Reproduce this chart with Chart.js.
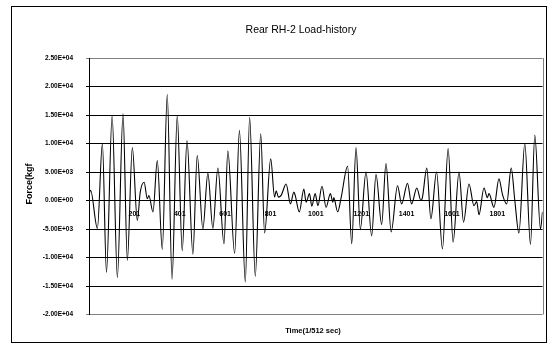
<!DOCTYPE html>
<html>
<head>
<meta charset="utf-8">
<script src="https://cdn.jsdelivr.net/npm/chart.js@4.4.1/dist/chart.umd.min.js"></script>
<style>
  html, body { margin: 0; padding: 0; background: #fff; }
</style>
</head>
<body>
<canvas id="loadChart" width="552" height="349"></canvas>
<script>
// Turning points of the load history (sample no. / force in kgf)
const sampleIdx = [1, 8, 38, 60, 78, 103, 126, 151, 170, 192,
  214, 227, 244, 258, 265, 283, 302, 324, 346, 367,
  390, 412, 433, 459, 478, 503, 525, 547, 569, 596,
  613, 643, 664, 690, 709, 734, 758, 775, 802, 819,
  826, 836, 848, 870, 889, 904, 910, 928, 948, 958,
  973, 983, 998, 1010, 1028, 1046, 1065, 1076, 1080, 1097,
  1112, 1141, 1159, 1178, 1197, 1222, 1247, 1266, 1291, 1310,
  1333, 1361, 1379, 1405, 1423, 1446, 1464, 1471, 1490, 1508,
  1533, 1559, 1584, 1606, 1632, 1652, 1676, 1698, 1710, 1720,
  1742, 1757, 1764, 1786, 1808, 1824, 1842, 1862, 1878, 1896,
  1922, 1947, 1966, 1991, 2000];

const forceKgf = [1000, 1800, -4900, 10000, -12600, 14900, -13500, 15200, -10500, 9300,
  -3500, 1500, 3200, 300, 870, -2000, 7000, -8600, 18600, -13800,
  14900, -8800, 10500, -9400, 7900, -5000, 4800, -4900, 5700, -7600,
  8700, -9300, 12300, -14300, 14600, -13300, 11700, -5700, 7300, 600,
  1700, 600, 900, 2900, -600, 1500, 900, -2000, 2000, -300,
  1200, -1000, 1200, -900, 2500, -1200, 1200, -300, 500, -2000,
  400, 6000, -7600, 9300, -5000, 5000, -6200, 4600, -4200, 6500,
  -5500, 2600, -600, 3000, -600, 2200, 0, 600, 5700, -3200,
  5000, -8500, 9100, -7300, 5000, -3800, 2900, -900, -200, -2500,
  2200, 500, 1200, -1200, 3800, 1000, -600, 5700, 0, -5700,
  10000, -7700, 11500, -5000, -2000];

// Tick labels
const xTickVals = [201, 401, 601, 801, 1001, 1201, 1401, 1601, 1801];
const yTickVals = [-20000, -15000, -10000, -5000, 0, 5000, 10000, 15000, 20000, 25000];
const yTickLabels = ['-2.00E+04', '-1.50E+04', '-1.00E+04', '-5.00E+03', '0.00E+00',
  '5.00E+03', '1.00E+04', '1.50E+04', '2.00E+04', '2.50E+04'];

const chartTitle = 'Rear RH-2 Load-history';
const xTitle = 'Time(1/512 sec)';
const yTitle = 'Force(kgf';

const fontName = '"Liberation Sans", Arial, sans-serif';

// Frame, titles and the grey plot border, Excel style
const moldura = {
  id: 'moldura',
  beforeDraw(chart) {
    const c = chart.ctx;
    c.save();
    c.fillStyle = '#fff';
    c.fillRect(0, 0, chart.width, chart.height);
    c.restore();
  },
  beforeDatasetsDraw(chart) {
    const a = chart.chartArea;
    const c = chart.ctx;
    c.save();
    c.strokeStyle = '#808080';
    c.lineWidth = 1;
    c.beginPath();
    c.moveTo(Math.round(a.right) + 0.5, a.top);
    c.lineTo(Math.round(a.right) + 0.5, a.bottom);
    c.stroke();
    c.restore();
  },
  afterDraw(chart) {
    const c = chart.ctx;
    c.save();
    c.strokeStyle = '#000';
    c.lineWidth = 1;
    c.strokeRect(11.5, 6.5, 535, 336);

    c.fillStyle = '#000';
    c.textAlign = 'center';
    c.textBaseline = 'middle';
    c.font = '10.5px ' + fontName;
    c.fillText(chartTitle, 301, 30);

    c.font = 'bold 7.5px ' + fontName;
    c.fillText(xTitle, 313, 331);

    c.translate(30, 184);
    c.rotate(-Math.PI / 2);
    c.font = 'bold 9px ' + fontName;
    c.fillText(yTitle, 0, 0);
    c.restore();
  }
};

const ctx = document.getElementById('loadChart').getContext('2d');

const loadChart = new Chart(ctx, {
  type: 'line',
  data: {
    datasets: [{
      label: 'Force',
      data: sampleIdx.map((s, i) => ({ x: s, y: forceKgf[i] })),
      borderColor: '#000',
      borderWidth: 1.1,
      pointRadius: 0,
      cubicInterpolationMode: 'monotone'
    }]
  },
  options: {
    responsive: false,
    animation: false,
    devicePixelRatio: 1,
    layout: { padding: { left: 20, top: 58, right: 9.5, bottom: 34.5 } },
    plugins: {
      legend: { display: false },
      tooltip: { enabled: false },
      title: { display: false }
    },
    scales: {
      x: {
        type: 'linear',
        position: { y: 0 },
        min: 1,
        max: 2000,
        afterBuildTicks: (scale) => { scale.ticks = xTickVals.map(v => ({ value: v })); },
        grid: { display: false, drawTicks: false },
        border: { display: false },
        ticks: {
          autoSkip: false,
          maxRotation: 0,
          padding: 9,
          color: '#000',
          font: { size: 7, weight: 'bold', family: fontName },
          callback: (v) => String(v)
        }
      },
      y: {
        min: -20000,
        max: 25000,
        afterBuildTicks: (scale) => { scale.ticks = yTickVals.map(v => ({ value: v })); },
        afterFit: (scale) => { scale.width = 69; },
        grid: {
          color: (c) => (c.tick && (c.tick.value === 25000 || c.tick.value === -20000)) ? '#808080' : '#000',
          lineWidth: 1,
          tickLength: 3
        },
        border: { color: '#000', width: 1 },
        ticks: {
          padding: 13,
          color: '#000',
          font: { size: 6.5, weight: 'bold', family: fontName },
          callback: (v) => yTickLabels[yTickVals.indexOf(v)]
        }
      }
    }
  },
  plugins: [moldura]
});
</script>
</body>
</html>
